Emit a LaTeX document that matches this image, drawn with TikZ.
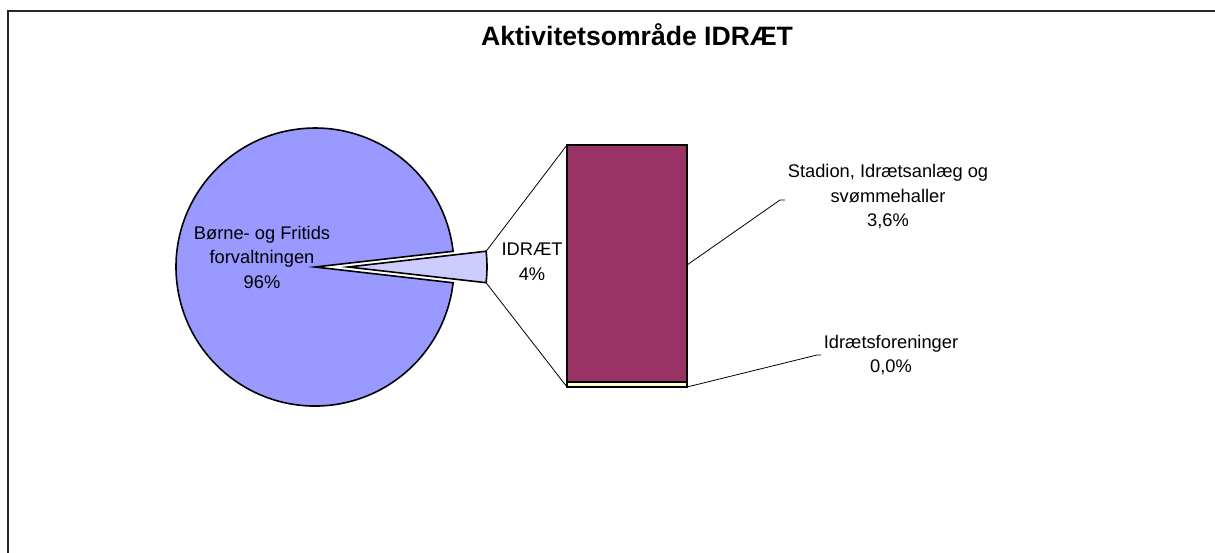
\documentclass[tikz,border=0pt]{standalone}
\usepackage{fontspec}
\setmainfont{Liberation Sans}
\definecolor{pieA}{HTML}{9999FF}
\definecolor{pieB}{HTML}{CCCCFF}
\definecolor{barA}{HTML}{993366}
\definecolor{barB}{HTML}{FFFFCC}
\tikzset{
  lbl/.style={font=\fontsize{18.3}{24.5}\selectfont, align=center, inner sep=0pt},
  ttl/.style={font=\fontsize{26.6}{30}\selectfont\bfseries, inner sep=0pt},
  edge/.style={draw=black, line width=1.6pt},
  leader/.style={draw=black, line width=0.8pt}
}
\begin{document}
\begin{tikzpicture}[x=1pt,y=-1pt]
\useasboundingbox (0,0) rectangle (1215,553);
% frame
\draw[line width=2pt, black!85] (8,553) -- (8,11) -- (1215,11);
% title
\node[ttl] (title) at (637,35) {Aktivitetsområde IDRÆT};
% main pie slice
\coordinate (c1) at (315,267);
\filldraw[fill=pieA, edge, line join=miter] (c1) -- (453.1,251.3) arc[start angle=6.5, end angle=353.5, radius=139pt] -- cycle;
% exploded slice
\coordinate (c2) at (348,267);
\coordinate (s1) at (486.1,251.3);
\coordinate (s2) at (486.1,282.7);
\filldraw[fill=pieB, edge, line join=miter] (c2) -- (s2) arc[start angle=-6.5, end angle=6.5, radius=139pt] -- cycle;
% bar
\coordinate (btl) at (567,145);
\coordinate (bbl) at (567,387);
\filldraw[fill=barA, edge] (btl) rectangle (687,387);
\filldraw[fill=barB, draw=black, line width=1.2pt] (567,382) rectangle (687,387);
% connectors
\draw[leader] (s1) -- (btl);
\draw[leader] (s2) -- (bbl);
% labels
\node[lbl] (lpie) at (262,257) {Børne- og Fritids\\forvaltningen\\96\%};
\node[lbl] (lidr) at (532,262) {IDRÆT\\4\%};
\node[lbl] (lsta) at (888,197) {Stadion, Idrætsanlæg og\\svømmehaller\\3,6\%};
\node[lbl] (lfor) at (891,355) {Idrætsforeninger\\0,0\%};
% leader lines
\coordinate (a1) at (687,265);
\coordinate (a2) at (780,200);
\coordinate (a3) at (785,200);
\draw[leader] (a1) -- (a2) -- (a3);
\coordinate (b1) at (687,387);
\coordinate (b2) at (817,355);
\coordinate (b3) at (821,355);
\draw[leader] (b1) -- (b2) -- (b3);
\end{tikzpicture}
\end{document}
